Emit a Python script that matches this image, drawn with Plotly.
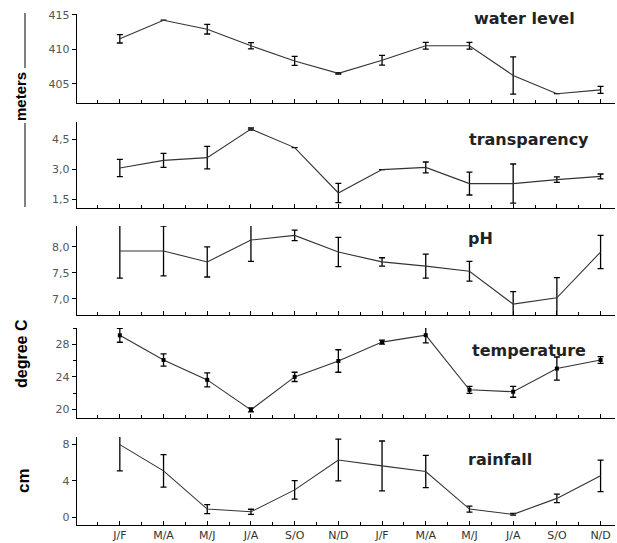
import plotly.graph_objects as go

months = ["J/F", "M/A", "M/J", "J/A", "S/O", "N/D", "J/F", "M/A", "M/J", "J/A", "S/O", "N/D"]

water = [411.5, 414.2, 412.9, 410.5, 408.3, 406.5, 408.4, 410.5, 410.5, 406.2, 403.55, 404.1]
water_err = [0.6, None, 0.7, 0.45, 0.65, 0.1, 0.7, 0.5, 0.5, 2.7, None, 0.5]

transparency = [3.05, 3.43, 3.57, 5.0, 4.07, 1.8, 2.97, 3.08, 2.27, 2.27, 2.47, 2.63]
trans_err = [0.43, 0.35, 0.56, 0.05, None, 0.48, None, 0.27, 0.57, 0.98, 0.14, 0.12]

ph = [7.92, 7.92, 7.71, 8.13, 8.22, 7.90, 7.71, 7.63, 7.53, 6.90, 7.02, 7.90]
ph_err = [0.52, 0.48, 0.29, 0.41, 0.10, 0.28, 0.08, 0.23, 0.19, 0.24, 0.39, 0.32]

temperature = [29.1, 26.07, 23.63, 19.95, 24.0, 25.95, 28.27, 29.12, 22.41, 22.17, 25.02, 26.07]
temp_err = [0.85, 0.75, 0.85, 0.25, 0.57, 1.38, 0.24, 0.95, 0.43, 0.67, 1.42, 0.41]

rainfall = [8.0, 5.1, 0.88, 0.58, 3.0, 6.3, 5.65, 5.03, 0.88, 0.3, 2.06, 4.55]
rain_err = [2.9, 1.8, 0.5, 0.28, 1.03, 2.3, 2.75, 1.78, 0.33, 0.1, 0.46, 1.74]

titles = ["water level", "transparency", "pH", "temperature", "rainfall"]

W, H = 617, 543
panels = [
    dict(y=water, e=water_err, top=14, bot=103, rng=[402.2, 415.1],
         tv=[405, 410, 415], tt=["405", "410", "415"], minor=None, marker=False),
    dict(y=transparency, e=trans_err, top=122, bot=208, rng=[1.05, 5.35],
         tv=[1.5, 3.0, 4.5], tt=["1,5", "3,0", "4,5"], minor=None, marker=False),
    dict(y=ph, e=ph_err, top=226, bot=315, rng=[6.69, 8.40],
         tv=[7.0, 7.5, 8.0], tt=["7,0", "7,5", "8,0"], minor=None, marker=False),
    dict(y=temperature, e=temp_err, top=328, bot=418, rng=[18.95, 30.0],
         tv=[20, 24, 28], tt=["20", "24", "28"], minor=2, marker=True),
    dict(y=rainfall, e=rain_err, top=437, bot=525, rng=[-0.88, 8.84],
         tv=[0, 4, 8], tt=["0", "4", "8"], minor=None, marker=False),
]
title_pos = [(524, 18), (529, 139), (481, 238), (529, 350), (500, 459)]

x = list(range(len(months)))
fig = go.Figure()
ann = []
for i, p in enumerate(panels):
    n = "" if i == 0 else str(i + 1)
    fig.add_trace(go.Scatter(
        x=x, y=p["y"], mode="lines+markers" if p["marker"] else "lines",
        line=dict(color="#333333", width=1.1),
        marker=dict(symbol="square", size=4, color="black"),
        error_y=dict(type="data", array=p["e"], color="black", thickness=1.3, width=3),
        cliponaxis=False, showlegend=False, hoverinfo="skip",
        xaxis="x" + n, yaxis="y" + n))
    dom = [1 - p["bot"] / H, 1 - p["top"] / H]
    xa = dict(domain=[77 / W, 615 / W], range=[-0.98, 11.33], anchor="y" + n,
              showline=True, linecolor="black", linewidth=1.2,
              tickmode="array", tickvals=x, ticktext=months,
              ticks="inside", ticklen=4, tickcolor="black", tickwidth=1,
              minor=dict(tickmode="linear", tick0=-0.5, dtick=1, ticks="inside",
                         ticklen=3, tickcolor="black"),
              showgrid=False, zeroline=False, fixedrange=True, automargin=False,
              showticklabels=(i == 4),
              tickfont=dict(family="DejaVu Sans", size=11, color="#333333"))
    ya = dict(domain=dom, range=p["rng"], anchor="x" + n,
              showline=True, linecolor="black", linewidth=1.2,
              tickmode="array", tickvals=p["tv"], ticktext=p["tt"],
              ticks="outside", ticklen=4, tickcolor="black",
              showgrid=False, zeroline=False, automargin=False, fixedrange=True,
              tickfont=dict(family="DejaVu Sans", size=11, color="#555555"))
    if p["minor"]:
        ya["minor"] = dict(tickmode="linear", tick0=18, dtick=4, ticks="outside",
                           ticklen=3, tickcolor="black")
    fig.update_layout(**{"xaxis" + n: xa, "yaxis" + n: ya})
    tx, ty = title_pos[i]
    ann.append(dict(text=titles[i], x=tx / W, y=1 - ty / H, xref="paper", yref="paper",
                    xanchor="center", yanchor="middle", showarrow=False,
                    font=dict(family="DejaVu Sans", size=16, color="#222222", weight="bold")))

ylabels = [("meters", 20, 97, 15), ("degree C", 21, 353, 16), ("cm", 23, 481, 17)]
for t, lx, ly, fs in ylabels:
    ann.append(dict(text="<b>" + t + "</b>", x=lx / W, y=1 - ly / H, xref="paper", yref="paper",
                    xanchor="center", yanchor="middle", showarrow=False, textangle=-90,
                    font=dict(family="Liberation Sans Narrow, Liberation Sans", size=fs, color="black")))

shapes = [
    dict(type="line", xref="paper", yref="paper", x0=25 / W, x1=25 / W,
         y0=1 - 13 / H, y1=1 - 68 / H, line=dict(color="black", width=1)),
    dict(type="line", xref="paper", yref="paper", x0=25 / W, x1=25 / W,
         y0=1 - 123 / H, y1=1 - 207 / H, line=dict(color="black", width=1)),
]

fig.update_layout(width=W, height=H, margin=dict(l=0, r=0, t=0, b=0, autoexpand=False),
                  plot_bgcolor="white", paper_bgcolor="white", hovermode=False,
                  annotations=ann, shapes=shapes)
fig.write_html("out.html", config={"displayModeBar": False, "staticPlot": True},
               post_script="document.body.style.margin='0';document.body.style.overflow='hidden';")
